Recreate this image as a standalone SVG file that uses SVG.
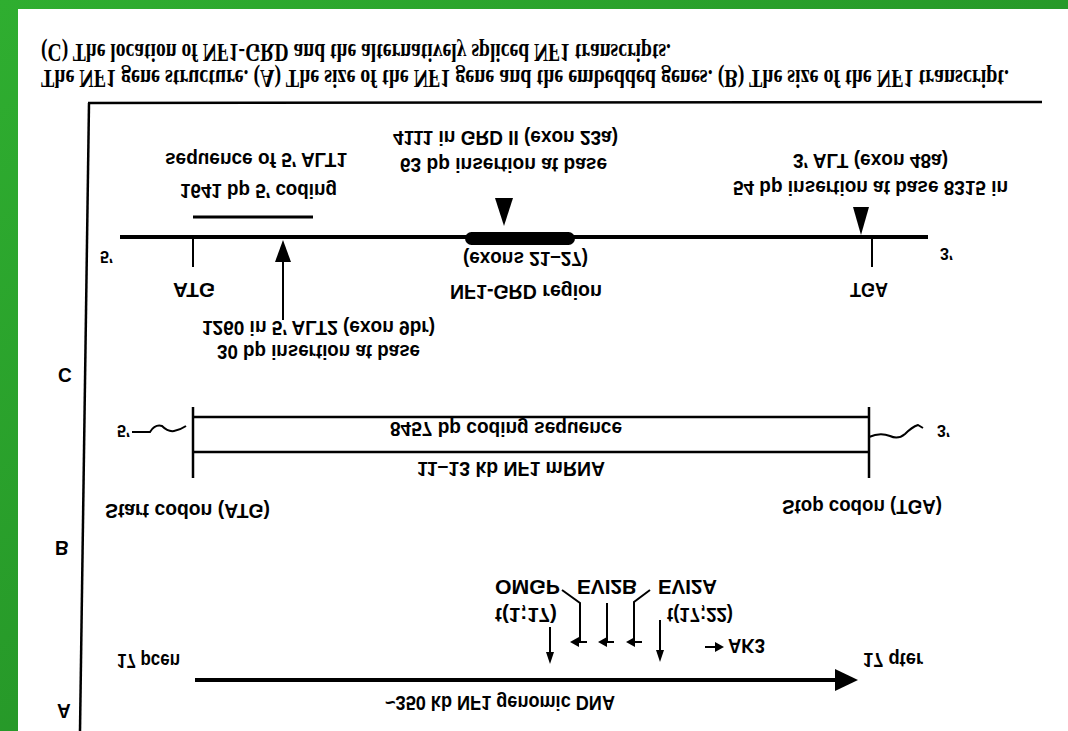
<svg xmlns="http://www.w3.org/2000/svg" width="1068" height="731" viewBox="0 0 1068 731">
<defs>
<linearGradient id="g" x1="0" y1="0" x2="1" y2="1">
<stop offset="0" stop-color="#2fae30"/>
<stop offset="1" stop-color="#1f8522"/>
</linearGradient>
<style>
.t{font-family:"Liberation Sans",Arial,sans-serif;font-weight:bold;font-size:19px;fill:#000}
.s{font-family:"Liberation Serif","Times New Roman",serif;font-weight:bold;font-size:20px;fill:#000}
.ln{stroke:#000;fill:none;stroke-linecap:butt}
.k{fill:#000}
</style>
</defs>
<rect x="0" y="0" width="1068" height="731" fill="url(#g)"/>
<rect x="18" y="9" width="1050" height="722" fill="#fff"/>

<g id="title">
<text class="s" transform="matrix(1 0 0 -1.3 41 44)" textLength="630" lengthAdjust="spacingAndGlyphs">(C) The location of NF1-GRD and the alternatively spliced NF1 transcripts.</text>
<text class="s" transform="matrix(1 0 0 -1.3 41 70)" textLength="968" lengthAdjust="spacingAndGlyphs">The NF1 gene structure. (A) The size of the NF1 gene and the embedded genes. (B) The size of the NF1 transcript.</text>
</g>

<g id="frame">
<line class="ln" x1="88" y1="103" x2="1042" y2="102" stroke-width="2.5"/>
<line class="ln" x1="89" y1="103" x2="80" y2="731" stroke-width="2.5"/>
</g>

<g id="panel-labels">
<text class="t" transform="matrix(1 0 0 -1.1 58 368)">C</text>
<text class="t" transform="matrix(1 0 0 -1.1 55 541)">B</text>
<text class="t" transform="matrix(1 0 0 -1.1 57 704)">A</text>
</g>

<g id="connectors">
<!-- panel C -->
<line class="ln" x1="120" y1="237" x2="928" y2="237" stroke-width="4"/>
<line class="ln" x1="193" y1="217" x2="313" y2="217" stroke-width="3"/>
<line class="ln" x1="193" y1="237" x2="193" y2="267" stroke-width="2"/>
<line class="ln" x1="872" y1="237" x2="872" y2="267" stroke-width="2"/>
<line class="ln" x1="283" y1="258" x2="283" y2="320" stroke-width="2"/>
<polygon class="k" points="283,240 275,262 291,262"/>
<polygon class="k" points="495,198 513,198 504,226"/>
<polygon class="k" points="853,207 869,207 861,235"/>
<!-- panel B -->
<line class="ln" x1="193" y1="417" x2="869" y2="417" stroke-width="2.5"/>
<line class="ln" x1="193" y1="452" x2="869" y2="452" stroke-width="2.5"/>
<line class="ln" x1="193" y1="407" x2="193" y2="478" stroke-width="2.5"/>
<line class="ln" x1="869" y1="407" x2="869" y2="478" stroke-width="2.5"/>
<path class="ln" stroke-width="2" d="M132 432 L150 432 Q155 424 162 426 Q168 432 174 431 Q180 430 186 426"/>
<path class="ln" stroke-width="2" d="M869 437 Q880 432 890 436 Q898 440 905 434 Q912 427 918 425 L923 428"/>
<!-- panel A -->
<line class="ln" x1="195" y1="680" x2="840" y2="680" stroke-width="4"/>
<polygon class="k" points="835,669 858,680 835,691"/>
<line class="ln" x1="550" y1="627" x2="550" y2="655" stroke-width="2"/>
<polygon class="k" points="546,652 554,652 550,664"/>
<line class="ln" x1="660" y1="620" x2="660" y2="652" stroke-width="2"/>
<polygon class="k" points="656,650 664,650 660,662"/>
<polyline class="ln" stroke-width="2" points="562,590 580,603 580,642"/>
<line class="ln" x1="578" y1="642" x2="587" y2="642" stroke-width="2"/>
<polygon class="k" points="570,642 579,637 579,647"/>
<line class="ln" x1="607" y1="603" x2="607" y2="642" stroke-width="2"/>
<line class="ln" x1="606" y1="642" x2="614" y2="642" stroke-width="2"/>
<polygon class="k" points="598,642 607,637 607,647"/>
<polyline class="ln" stroke-width="2" points="650,590 634,602 634,642"/>
<line class="ln" x1="634" y1="642" x2="642" y2="642" stroke-width="2"/>
<polygon class="k" points="626,642 635,637 635,647"/>
<line class="ln" x1="705" y1="647" x2="716" y2="647" stroke-width="2"/>
<polygon class="k" points="724,647 715,642 715,652"/>
</g>

<g id="grd-bar">
<rect x="465" y="232" width="110" height="13" rx="6.5" fill="#000"/>
</g>

<g id="node-C-labels">
<text class="t" transform="matrix(1 0 0 -1.1 393 131)" textLength="225" lengthAdjust="spacingAndGlyphs">4111 in GRD II (exon 23a)</text>
<text class="t" transform="matrix(1 0 0 -1.1 400 158)" textLength="207" lengthAdjust="spacingAndGlyphs">63 bp insertion at base</text>
<text class="t" transform="matrix(1 0 0 -1.1 165 153)" textLength="182" lengthAdjust="spacingAndGlyphs">sequence of 5′ ALT1</text>
<text class="t" transform="matrix(1 0 0 -1.1 180 184)" textLength="157" lengthAdjust="spacingAndGlyphs">1641 bp 5′ coding</text>
<text class="t" transform="matrix(1 0 0 -1.1 793 154)" textLength="155" lengthAdjust="spacingAndGlyphs">3′ ALT (exon 48a)</text>
<text class="t" transform="matrix(1 0 0 -1.1 733 181)" textLength="275" lengthAdjust="spacingAndGlyphs">54 bp insertion at base 8315 in</text>
<text class="t" transform="matrix(1 0 0 -1.05 100 251)" style="font-size:16px">5′</text>
<text class="t" transform="matrix(1 0 0 -1.05 940 248)" style="font-size:16px">3′</text>
<text class="t" transform="matrix(1 0 0 -1.1 463 252)" textLength="125" lengthAdjust="spacingAndGlyphs">(exons 21–27)</text>
<text class="t" transform="matrix(1 0 0 -1.1 450 285)" textLength="152" lengthAdjust="spacingAndGlyphs">NF1-GRD region</text>
<text class="t" transform="matrix(1 0 0 -1.1 173 283)" textLength="42" lengthAdjust="spacingAndGlyphs">ATG</text>
<text class="t" transform="matrix(1 0 0 -1.1 850 283)" textLength="38" lengthAdjust="spacingAndGlyphs">TGA</text>
<text class="t" transform="matrix(1 0 0 -1.1 202 321)" textLength="233" lengthAdjust="spacingAndGlyphs">1260 in 5′ ALT2 (exon 9br)</text>
<text class="t" transform="matrix(1 0 0 -1.1 217 345)" textLength="203" lengthAdjust="spacingAndGlyphs">30 bp insertion at base</text>
</g>

<g id="node-B-labels">
<text class="t" transform="matrix(1 0 0 -1.05 117 425)" style="font-size:16px">5′</text>
<text class="t" transform="matrix(1 0 0 -1.05 937 425)" style="font-size:16px">3′</text>
<text class="t" transform="matrix(1 0 0 -1.1 390 422)" textLength="232" lengthAdjust="spacingAndGlyphs">8457 bp coding sequence</text>
<text class="t" transform="matrix(1 0 0 -1.1 417 462)" textLength="188" lengthAdjust="spacingAndGlyphs">11–13 kb NF1 mRNA</text>
<text class="t" transform="matrix(1 0 0 -1.1 105 504)" textLength="165" lengthAdjust="spacingAndGlyphs">Start codon (ATG)</text>
<text class="t" transform="matrix(1 0 0 -1.1 782 500)" textLength="160" lengthAdjust="spacingAndGlyphs">Stop codon (TGA)</text>
</g>

<g id="node-A-labels">
<text class="t" transform="matrix(1 0 0 -1.1 495 580)" textLength="65" lengthAdjust="spacingAndGlyphs">OMGP</text>
<text class="t" transform="matrix(1 0 0 -1.1 577 580)" textLength="60" lengthAdjust="spacingAndGlyphs">EVI2B</text>
<text class="t" transform="matrix(1 0 0 -1.1 658 580)" textLength="59" lengthAdjust="spacingAndGlyphs">EVI2A</text>
<text class="t" transform="matrix(1 0 0 -1.1 495 608)" textLength="62" lengthAdjust="spacingAndGlyphs">t(1;17)</text>
<text class="t" transform="matrix(1 0 0 -1.1 667 608)" textLength="66" lengthAdjust="spacingAndGlyphs">t(17;22)</text>
<text class="t" transform="matrix(1 0 0 -1.1 728 639)" textLength="37" lengthAdjust="spacingAndGlyphs">AK3</text>
<text class="t" transform="matrix(1 0 0 -1.1 863 653)" textLength="60" lengthAdjust="spacingAndGlyphs">17 qter</text>
<text class="t" transform="matrix(1 0 0 -1.1 117 654)" textLength="63" lengthAdjust="spacingAndGlyphs">17 pcen</text>
<text class="t" transform="matrix(1 0 0 -1.1 385 696)" textLength="230" lengthAdjust="spacingAndGlyphs">~350 kb NF1 genomic DNA</text>
</g>
</svg>
